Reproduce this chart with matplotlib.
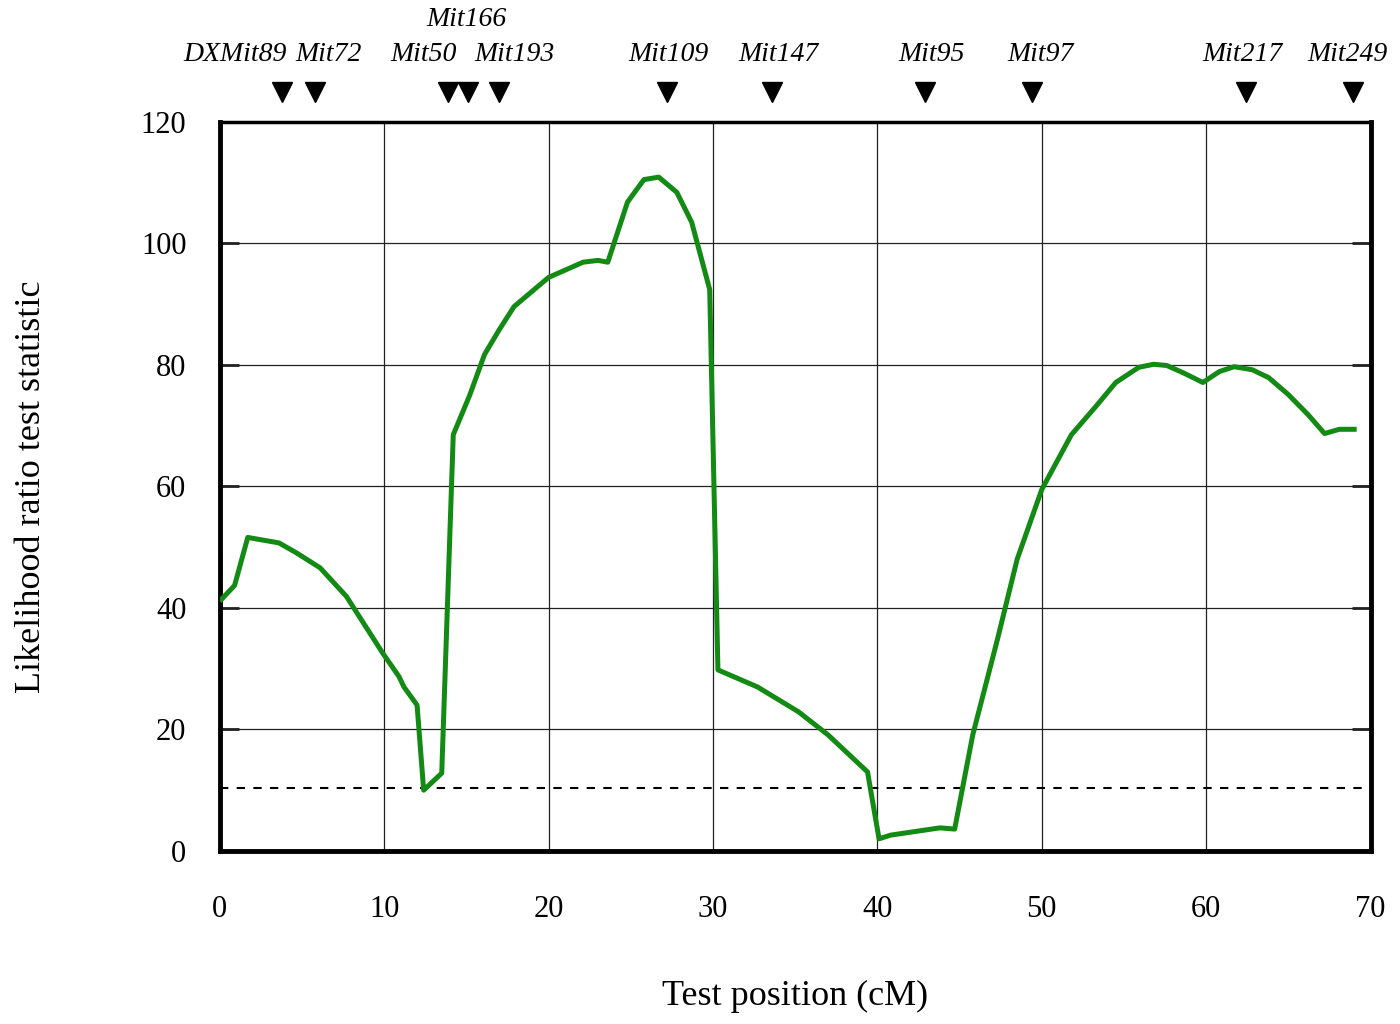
import matplotlib.pyplot as plt
import matplotlib.transforms as mtransforms

# curve
pos = [0.1, 0.9, 1.7, 3.6, 4.7, 6.1, 7.7, 9.9, 10.9, 11.2, 12.0, 12.4, 13.5, 14.2,
       15.2, 16.1, 17.0, 17.9, 20.0, 22.1, 23.0, 23.6, 24.8, 25.8, 26.7, 27.8, 28.7,
       29.8, 30.3, 32.7, 35.2, 37.0, 39.4, 40.1, 40.8, 43.8, 44.7, 45.8, 47.3, 48.5,
       50.0, 51.8, 53.3, 54.5, 55.9, 56.8, 57.6, 58.6, 59.8, 60.8, 61.7, 62.8, 63.8,
       65.0, 66.2, 67.2, 68.1, 69.0]
lrt = [41.4, 43.7, 51.6, 50.7, 49.0, 46.6, 41.9, 32.6, 28.7, 27.0, 24.0, 10.0, 12.8, 68.5,
       75.0, 81.7, 85.8, 89.6, 94.4, 96.9, 97.2, 96.9, 106.8, 110.5, 110.9, 108.4, 103.5,
       92.4, 29.8, 27.0, 22.9, 19.1, 13.0, 2.0, 2.6, 3.8, 3.6, 19.1, 34.8, 48.0,
       59.5, 68.5, 73.2, 77.1, 79.6, 80.1, 79.9, 78.7, 77.1, 78.9, 79.7, 79.2, 77.9,
       75.1, 71.8, 68.7, 69.4, 69.4]
threshold = 10.4

markers = ["DXMit89", "Mit72", "Mit50", "Mit166", "Mit193", "Mit109", "Mit147",
           "Mit95", "Mit97", "Mit217", "Mit249"]
marker_pos = [3.8, 5.8, 13.9, 15.1, 17.0, 27.2, 33.6, 42.9, 49.4, 62.4, 68.9]
label_pos = [0.9, 6.6, 12.4, 15.0, 17.9, 27.3, 34.0, 43.3, 49.9, 62.2, 68.6]

plt.rcParams['font.family'] = ['Liberation Serif', 'DejaVu Serif']

fig = plt.figure(figsize=(14, 10.24), dpi=100)
ax = fig.add_axes([0.157, 0.169, 0.822, 0.712])

ax.plot(pos, lrt, color='#138a13', lw=3.6, zorder=3)
ax.axhline(threshold, color='black', lw=1.5, ls=(0, (4, 4)), zorder=2)

ax.set_xlim(0, 70)
ax.set_ylim(0, 120)
ax.set_xticks(range(0, 71, 10))
ax.set_yticks(range(0, 121, 20))
ax.grid(True, color='#222222', lw=0.9)
ax.set_axisbelow(True)

for side in ['left', 'bottom', 'right']:
    ax.spines[side].set_linewidth(3.5)
ax.spines['top'].set_linewidth(2.5)

ax.tick_params(axis='y', direction='in', length=14, width=2, left=True, right=True,
               labelsize=22, pad=24, color='#222222')
ax.tick_params(axis='x', direction='in', length=0, labelsize=22, pad=32)

ax.set_xlabel("Test position (cM)", fontsize=26)
ax.set_ylabel("Likelihood ratio test statistic", fontsize=26)
ax.xaxis.set_label_coords(0.5, -0.177)
ax.yaxis.set_label_coords(-0.149, 0.5)

# marker positions above the plot
trans = mtransforms.blended_transform_factory(ax.transData, ax.transAxes)
ax.plot(marker_pos, [1.041] * len(marker_pos), 'v', color='black', ms=15,
        transform=trans, clip_on=False)
for name, x in zip(markers, label_pos):
    y = 1.140 if name == "Mit166" else 1.092
    ax.text(x, y, name, transform=trans, ha='center', va='center',
            fontsize=20, style='italic')

fig.savefig("out.png", dpi=100)
